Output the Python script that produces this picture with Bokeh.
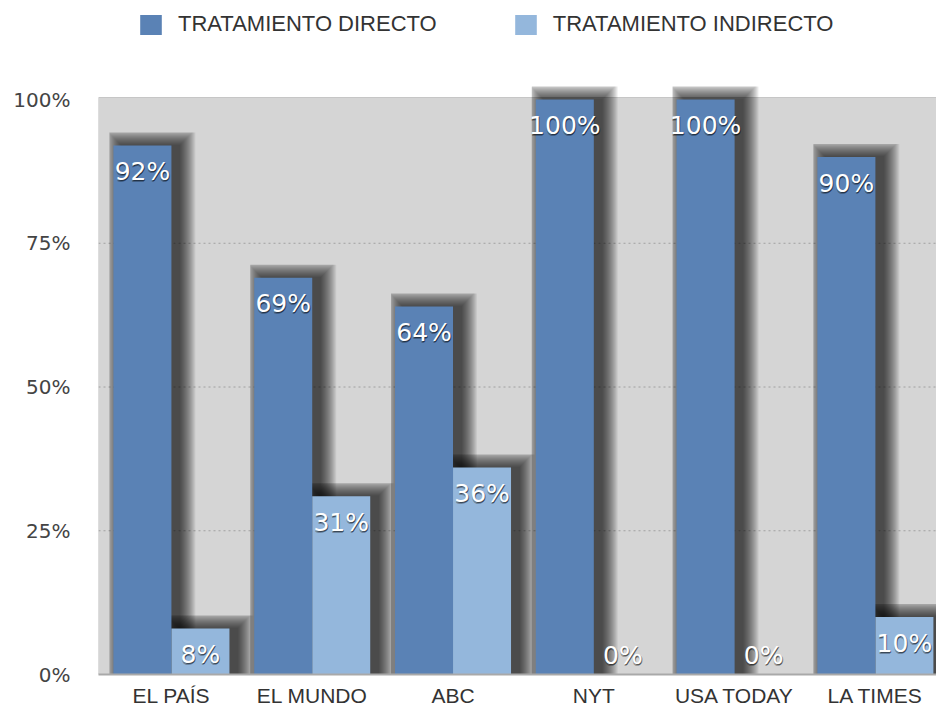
from bokeh.plotting import figure
from bokeh.models import (ColumnDataSource, FixedTicker, NumeralTickFormatter,
                          Legend, LegendItem, Range1d)
from bokeh.core.properties import value
from bokeh.embed import file_html
from bokeh.resources import INLINE

# ---- data ----
categories = ["EL PAÍS", "EL MUNDO", "ABC", "NYT", "USA TODAY", "LA TIMES"]
directo = [92, 69, 64, 100, 100, 90]
indirecto = [8, 31, 36, 0, 0, 10]
series_names = ["TRATAMIENTO DIRECTO", "TRATAMIENTO INDIRECTO"]
y_ticks = [0, 0.25, 0.5, 0.75, 1.0]

# ---- style ----
C_DARK = "#5a82b5"
C_LIGHT = "#94b7dc"
BAR_W = 0.412
FRAME_W, FRAME_H = 838, 674
PX_PER_UNIT_Y = 575
X0, X1 = -0.518, 5.434
Y0, Y1 = 0.0, FRAME_H / PX_PER_UNIT_Y
PX_X = (X1 - X0) / FRAME_W
PX_Y = 1.0 / PX_PER_UNIT_Y
PLOT_TOP = 1.0 + 2 * PX_Y  # grey area top

idx = list(range(len(categories)))
d_frac = [v / 100 for v in directo]
i_frac = [v / 100 for v in indirecto]

p = figure(width=936, height=711, output_backend="svg", toolbar_location=None,
           x_range=Range1d(X0, X1), y_range=Range1d(Y0, Y1),
           min_border_left=98, min_border_right=0, min_border_top=0,
           min_border_bottom=37)
p.background_fill_color = "white"
p.border_fill_color = "white"
p.outline_line_color = None

# ---- grey plot area and grid ----
p.quad(left=[X0], right=[X1], bottom=[Y0], top=[PLOT_TOP],
       fill_color="#d5d5d5", line_color="#c6c6c6", line_width=1)
grid_y = y_ticks[1:-1]
p.segment(x0=[X0] * len(grid_y), x1=[X1] * len(grid_y), y0=grid_y, y1=grid_y,
          line_color="#a0a0a0", line_dash="2 3", line_width=1)

# ---- soft drop shadows ----
bars = []
for i, v in zip(idx, d_frac):
    bars.append((i - BAR_W, i, v))
for i, v in zip(idx, i_frac):
    bars.append((i, i + BAR_W, v))
N_LAYERS = 16
for k in range(1, N_LAYERS + 1):
    e = k * 1.0
    sl, sr, st, sb = [], [], [], []
    for (l, r, t) in bars:
        if t <= 0:
            continue
        sl.append(l + (8 - min(e, 12)) * PX_X)
        sr.append(r + (8 + e) * PX_X)
        st.append(t + min(e, 13) * PX_Y)
        sb.append(0)
    p.quad(left=sl, right=sr, top=st, bottom=sb, fill_color="black",
           fill_alpha=0.058, line_color=None)

# ---- bars ----
src_d = ColumnDataSource(dict(x=[i - BAR_W / 2 for i in idx], top=d_frac))
src_i = ColumnDataSource(dict(x=[i + BAR_W / 2 for i in idx], top=i_frac))
r_d = p.vbar(x="x", top="top", width=BAR_W, source=src_d,
             fill_color=C_DARK, line_color=None)
r_i = p.vbar(x="x", top="top", width=BAR_W, source=src_i,
             fill_color=C_LIGHT, line_color=None)

# ---- value labels ----
lab_x = [i - BAR_W / 2 for i in idx] + [i + BAR_W / 2 for i in idx]
lab_v = directo + indirecto
lab_y = [max(v / 100 - 26 * PX_Y, 19 * PX_Y) for v in lab_v]
lab_t = [f"{v}%" for v in lab_v]
for dx, dy, col, a in [(1, 1, "black", 0.45), (0, 2, "black", 0.3), (0, 0, "white", 1.0)]:
    p.text(x=lab_x, y=lab_y, text=lab_t, text_align="center",
           text_baseline="middle", text_color=col, text_alpha=a,
           x_offset=dx, y_offset=dy,
           text_font=value("DejaVu Sans"), text_font_size="25px")

# ---- axes ----
p.xaxis.ticker = FixedTicker(ticks=idx)
p.xaxis.major_label_overrides = {i: c for i, c in zip(idx, categories)}
p.xaxis.axis_line_color = "#a9a9a9"
p.xaxis.axis_line_width = 2
p.xaxis.major_tick_line_color = None
p.xaxis.minor_tick_line_color = None
p.xaxis.major_tick_out = 0
p.xaxis.major_label_standoff = 9
p.xaxis.major_label_text_font = "Liberation Sans"
p.xaxis.major_label_text_font_size = "21px"
p.xaxis.major_label_text_color = "#333333"

p.yaxis.ticker = FixedTicker(ticks=y_ticks)
p.yaxis.formatter = NumeralTickFormatter(format="0%")
p.yaxis.axis_line_color = None
p.yaxis.major_tick_line_color = None
p.yaxis.minor_tick_line_color = None
p.yaxis.major_tick_out = 0
p.yaxis.major_label_standoff = 28
p.yaxis.major_label_text_font = "DejaVu Sans"
p.yaxis.major_label_text_font_size = "20px"
p.yaxis.major_label_text_color = "#444444"

p.xgrid.grid_line_color = None
p.ygrid.grid_line_color = None

# ---- legend ----
legend = Legend(items=[LegendItem(label=series_names[0], renderers=[r_d]),
                       LegendItem(label=series_names[1], renderers=[r_i])],
                orientation="horizontal", location=(39, 637),
                glyph_width=27, glyph_height=25, label_standoff=14,
                spacing=75, padding=0, margin=0,
                border_line_alpha=0, background_fill_alpha=0,
                label_text_font="Liberation Sans", label_text_font_size="22px",
                label_text_color="#333333")
p.add_layout(legend, "center")

open("out.html", "w").write(file_html(p, INLINE))
